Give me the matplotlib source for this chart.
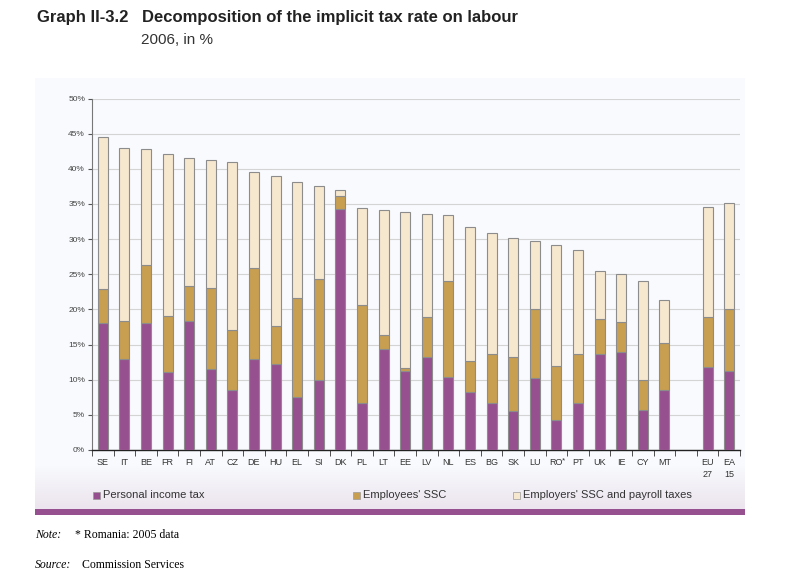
import numpy as np
import matplotlib
matplotlib.use("Agg")
import matplotlib.pyplot as plt
from matplotlib.patches import Rectangle

plt.rcParams['font.family'] = ['Liberation Sans', 'DejaVu Sans']

# data (implicit tax rate on labour, %)
countries = ['SE', 'IT', 'BE', 'FR', 'FI', 'AT', 'CZ', 'DE', 'HU', 'EL', 'SI', 'DK',
             'PL', 'LT', 'EE', 'LV', 'NL', 'ES', 'BG', 'SK', 'LU', 'RO*', 'PT',
             'UK', 'IE', 'CY', 'MT', '', 'EU\n27', 'EA\n15']
personal_tax = [18.1, 12.9, 18.0, 11.1, 18.3, 11.5, 8.6, 13.0, 12.3, 7.5, 10.0, 34.3,
                6.7, 14.4, 11.2, 13.3, 10.4, 8.3, 6.7, 5.6, 10.2, 4.2, 6.7,
                13.6, 14.0, 5.7, 8.6, np.nan, 11.8, 11.2]
employees_ssc = [4.8, 5.4, 8.3, 7.9, 5.0, 11.5, 8.4, 12.9, 5.4, 14.1, 14.3, 1.8,
                 13.9, 1.9, 0.4, 5.6, 13.6, 4.3, 6.9, 7.6, 9.9, 7.7, 6.9,
                 5.1, 4.2, 4.2, 6.6, np.nan, 7.1, 8.9]
employers_ssc = [21.6, 24.7, 16.5, 23.1, 18.2, 18.3, 24.0, 13.7, 21.3, 16.5, 13.3, 0.9,
                 13.8, 17.9, 22.3, 14.6, 9.4, 19.1, 17.3, 17.0, 9.6, 17.2, 14.9,
                 6.7, 6.9, 14.2, 6.2, np.nan, 15.6, 15.0]

c_pit = '#97508F'
c_ee = '#C89F50'
c_er = '#F6E8CE'
c_panel = '#F8FAFD'

W, H = 799, 580
fig = plt.figure(figsize=(W / 100, H / 100), dpi=100)

def fx(px):
    return px / W

def fy(py):
    return 1 - py / H

# background panel + legend strip with a faint gradient + purple rule
fig.add_artist(Rectangle((fx(35), fy(509)), fx(745) - fx(35), fy(78) - fy(509),
                         transform=fig.transFigure, facecolor=c_panel, edgecolor='none', zorder=0))
gax = fig.add_axes([fx(35), fy(509), fx(745) - fx(35), fy(466) - fy(509)], zorder=0)
grad = np.linspace(0, 1, 50)[:, None]
top = np.array([248, 250, 253]) / 255
bot = np.array([236, 228, 238]) / 255
img = top[None, None, :] * (1 - grad[..., None]) + bot[None, None, :] * grad[..., None]
gax.imshow(img, aspect='auto', extent=[0, 1, 0, 1])
gax.axis('off')
fig.add_artist(Rectangle((fx(35), fy(515)), fx(745) - fx(35), fy(509) - fy(515),
                         transform=fig.transFigure, facecolor=c_pit, edgecolor='none', zorder=1))

ax = fig.add_axes([fx(92), fy(450), fx(740) - fx(92), fy(98.5) - fy(450)], zorder=2)
ax.set_facecolor('none')

x = np.arange(len(countries))
pit = np.array(personal_tax)
ee = np.array(employees_ssc)
er = np.array(employers_ssc)
bw = 0.46
ax.bar(x, pit, width=bw, color=c_pit, edgecolor='#8c8c8c', linewidth=0.8, zorder=3)
ax.bar(x, ee, bottom=pit, width=bw, color=c_ee, edgecolor='#8c8c8c', linewidth=0.8, zorder=3)
ax.bar(x, er, bottom=pit + ee, width=bw, color=c_er, edgecolor='#8c8c8c', linewidth=0.8, zorder=3)

ax.set_xlim(-0.5, len(countries) - 0.5)
ax.set_ylim(0, 50)
ax.set_yticks(np.arange(0, 51, 5))
ax.set_yticklabels(['%d%%' % v for v in range(0, 51, 5)], fontsize=6, color='#444444')
ax.yaxis.grid(True, color='#d4d4d4', linewidth=0.8, zorder=0)
ax.set_axisbelow(True)

# the asterisk on RO is drawn separately as a small raised mark
labels = [c.rstrip('*') for c in countries]
ax.set_xticks(x)
ax.set_xticklabels(labels, fontsize=6.5, color='#333333', linespacing=1.4, va='top')
for i, c in enumerate(countries):
    if c.endswith('*'):
        ax.annotate('*', xy=(i, 0), xycoords=('data', 'axes fraction'),
                    xytext=(4, -5), textcoords='offset points',
                    fontsize=6, color='#333333', ha='left', va='top')
ax.set_xticks(np.arange(-0.5, len(countries), 1), minor=True)
ax.tick_params(axis='x', which='major', length=0, pad=6)
ax.tick_params(axis='x', which='minor', length=4, color='#333333', direction='out')
ax.tick_params(axis='y', length=3, color='#555555', pad=2)
for s in ['top', 'right']:
    ax.spines[s].set_visible(False)
ax.spines['left'].set_color('#777777')
ax.spines['bottom'].set_color('#222222')
ax.spines['bottom'].set_linewidth(1.0)

# legend drawn by hand to spread it across the strip
legend_items = [('Personal income tax', c_pit, 93), ("Employees' SSC", c_ee, 353),
                ("Employers' SSC and payroll taxes", c_er, 513)]
for label, col, px in legend_items:
    fig.add_artist(Rectangle((fx(px), fy(499)), fx(7) - fx(0), fy(492) - fy(499),
                             transform=fig.transFigure, facecolor=col,
                             edgecolor='#999999', linewidth=0.5, zorder=3))
    fig.text(fx(px + 10), fy(495.5), label, fontsize=8, color='#333333', va='center', ha='left')

fig.text(fx(37), fy(17.5), 'Graph II-3.2', fontsize=12, fontweight='bold', color='#222222',
         va='center', ha='left')
fig.text(fx(142), fy(17.5), 'Decomposition of the implicit tax rate on labour',
         fontsize=12, fontweight='bold', color='#222222', va='center', ha='left')
fig.text(fx(141), fy(40.5), '2006, in %', fontsize=11, color='#333333', va='center', ha='left')

fig.text(fx(35), fy(535), 'Note:', fontsize=8.5, style='italic', family='Liberation Serif',
         va='center', ha='left')
fig.text(fx(75), fy(535), '* Romania: 2005 data', fontsize=8.5, family='Liberation Serif',
         va='center', ha='left')
fig.text(fx(35), fy(565), 'Source:', fontsize=8.5, style='italic', family='Liberation Serif',
         va='center', ha='left')
fig.text(fx(82), fy(565), 'Commission Services', fontsize=8.5, family='Liberation Serif',
         va='center', ha='left')

fig.savefig('out.png', dpi=100)
